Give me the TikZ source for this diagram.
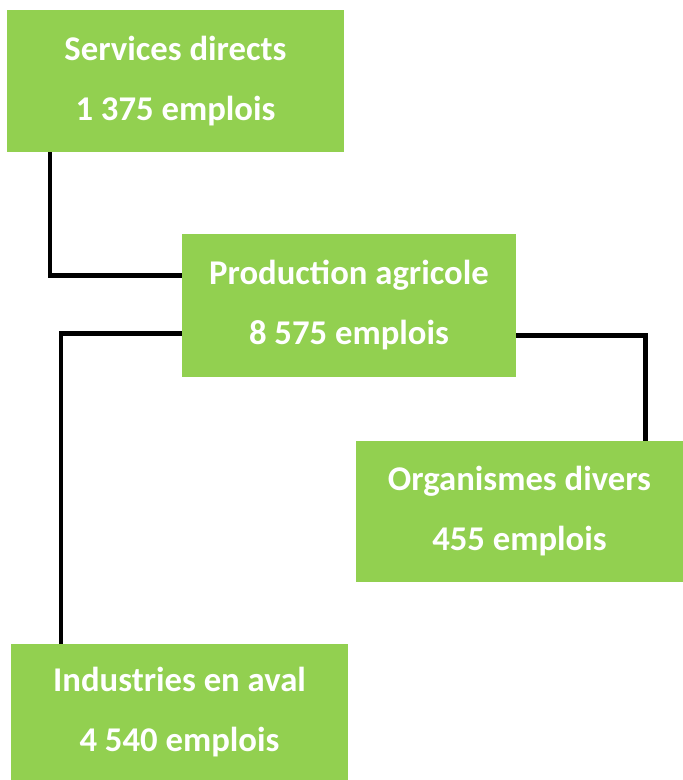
\documentclass[tikz,border=0pt]{standalone}
\usepackage{fontspec}
\setmainfont{Carlito}
\definecolor{vert}{HTML}{92D050}

\begin{document}
\begin{tikzpicture}[x=1pt,y=-1pt,
  bloc/.style={rectangle,fill=vert,inner sep=0pt,text=white,align=center,
    font=\bfseries\fontsize{34.7}{60}\selectfont},
  lien/.style={line width=4.7pt,draw=black,line join=miter}]
\useasboundingbox (0,0) rectangle (683,780);
% boxes
\node[bloc,minimum width=337,minimum height=142] (serv) at (175.5,81) {Services directs\\1 375 emplois};
\node[bloc,minimum width=334,minimum height=143] (prod) at (349,305.5) {Production agricole\\8 575 emplois};
\node[bloc,minimum width=327,minimum height=141] (org) at (519.5,511.5) {Organismes divers\\455 emplois};
\node[bloc,minimum width=337,minimum height=136] (ind) at (179.5,712) {Industries en aval\\4 540 emplois};
% connectors
\draw[lien] ([xshift=-125.5pt]serv.south) |- ([yshift=30pt]prod.west);
\draw[lien] ([yshift=-28pt]prod.west) -| ([xshift=-118.5pt]ind.north);
\draw[lien] ([yshift=-30pt]prod.east) -| ([xshift=126pt]org.north);
\end{tikzpicture}
\end{document}
